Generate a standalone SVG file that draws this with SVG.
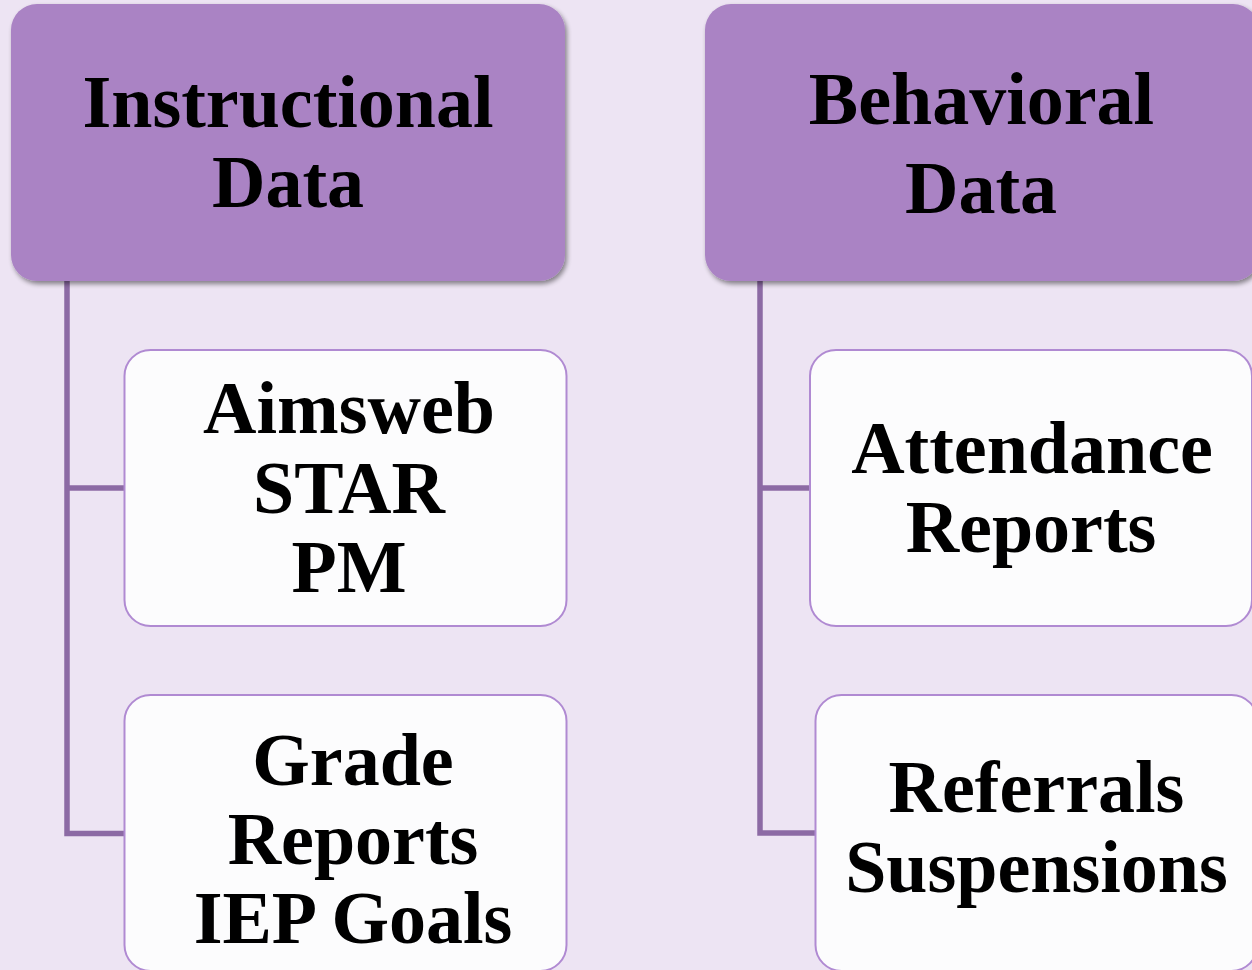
<svg xmlns="http://www.w3.org/2000/svg" width="1252" height="970" viewBox="0 0 1252 970">
  <defs>
    <filter id="shadow" x="-10%" y="-10%" width="120%" height="125%">
      <feGaussianBlur in="SourceAlpha" stdDeviation="2.5"/>
      <feOffset dx="2" dy="3" result="off"/>
      <feComponentTransfer><feFuncA type="linear" slope="0.45"/></feComponentTransfer>
      <feMerge><feMergeNode/><feMergeNode in="SourceGraphic"/></feMerge>
    </filter>
  </defs>
  <style>
    .head { fill: #aa83c4; filter: url(#shadow); }
    .item { fill: #fcfcfd; stroke: #b08ad2; stroke-width: 2; }
    .conn { fill: none; stroke: #8c6aa4; stroke-width: 5.5; stroke-linejoin: miter; stroke-linecap: butt; }
    text { font-family: "Liberation Serif", "Times New Roman", serif; font-weight: bold; font-size: 74px; fill: #000; text-anchor: middle; }
  </style>

  <!-- background -->
  <rect x="0" y="0" width="1252" height="970" fill="#ede4f3"/>

  <!-- connectors -->
  <g id="connectors">
    <path class="conn" d="M67 281 V833.5 H125"/>
    <path class="conn" d="M67 488 H125"/>
    <path class="conn" d="M760 281 V833 H816"/>
    <path class="conn" d="M760 488 H811"/>
  </g>

  <!-- column 1 -->
  <g id="instructional">
    <rect class="head" x="11" y="4" width="554" height="277" rx="26" ry="26"/>
    <text x="288" y="127">Instructional</text>
    <text x="288" y="207">Data</text>
  </g>
  <g id="aimsweb">
    <rect class="item" x="124.5" y="350" width="442" height="276" rx="26" ry="26"/>
    <text x="349" y="433">Aimsweb</text>
    <text x="349" y="512.5">STAR</text>
    <text x="349" y="592">PM</text>
  </g>
  <g id="grades">
    <rect class="item" x="124.5" y="695" width="442" height="276" rx="26" ry="26"/>
    <text x="353" y="785">Grade</text>
    <text x="353" y="864">Reports</text>
    <text x="353" y="943">IEP Goals</text>
  </g>

  <!-- column 2 -->
  <g id="behavioral">
    <rect class="head" x="705" y="4" width="554" height="277" rx="26" ry="26"/>
    <text x="981.5" y="124">Behavioral</text>
    <text x="981" y="213">Data</text>
  </g>
  <g id="attendance">
    <rect class="item" x="810" y="350" width="442" height="276" rx="26" ry="26"/>
    <text x="1032" y="473">Attendance</text>
    <text x="1031" y="552">Reports</text>
  </g>
  <g id="referrals">
    <rect class="item" x="815.5" y="695" width="442" height="276" rx="26" ry="26"/>
    <text x="1036.5" y="812">Referrals</text>
    <text x="1036.5" y="892">Suspensions</text>
  </g>
</svg>
